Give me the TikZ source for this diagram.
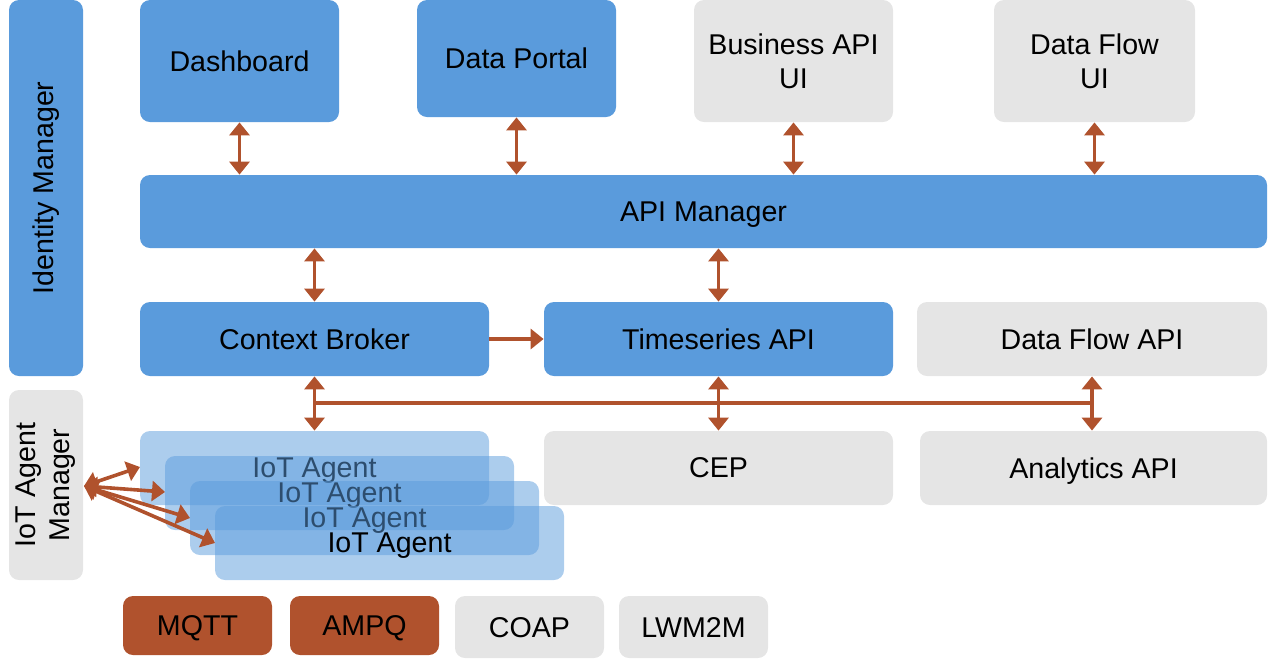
\documentclass[tikz,border=0pt]{standalone}
\usepackage{fontspec}
\setmainfont{Liberation Sans}
\usetikzlibrary{arrows.meta}
\definecolor{fblue}{HTML}{5A9BDC}
\definecolor{fgray}{HTML}{E5E5E5}
\definecolor{fbrown}{HTML}{B0522D}
\begin{document}
\begin{tikzpicture}[x=0.5pt,y=-0.5pt,
	box/.style={rectangle,rounded corners=5pt,inner sep=0pt,align=center,
		font=\fontsize{14.3}{17}\selectfont,minimum width=174.5pt,minimum height=37pt},
	onel/.style={text depth=0pt},
	bluebox/.style={box,fill=fblue},
	graybox/.style={box,fill=fgray},
	agentbox/.style={box,onel,fill=fblue,fill opacity=.5,text opacity=1},
	protobox/.style={box,onel,minimum width=74.5pt,minimum height=30pt},
	link/.style={draw=fbrown,line width=1.8pt},
	dlink/.style={link,{Triangle[length=6.5pt,width=10pt]}-{Triangle[length=6.5pt,width=10pt]}},
	slink/.style={link,-{Triangle[length=6.5pt,width=10pt]}}]
	\useasboundingbox (0,0) rectangle (1268,660);
	% side bars
	\node[bluebox,minimum width=37pt,minimum height=188pt] (idm) at (46,188) {};
	\node[rotate=90,font=\fontsize{14.3}{17}\selectfont] at (idm.center) {Identity Manager};
	\node[graybox,minimum width=37pt,minimum height=95pt] (iam) at (46,485) {};
	\node[rotate=90,align=center,font=\fontsize{14.3}{17}\selectfont] at (iam.center) {IoT Agent\\Manager};
	% top row
	\node[bluebox,onel,minimum width=99.5pt,minimum height=61pt] (dash) at (239.5,61) {Dashboard};
	\node[bluebox,onel,minimum width=99.5pt,minimum height=58.5pt] (dport) at (516.5,58.5) {Data Portal};
	\node[graybox,minimum width=99.5pt,minimum height=61pt] (bapi) at (793.5,61) {Business API\\UI};
	\node[graybox,minimum width=100.5pt,minimum height=61pt] (dfui) at (1094.5,61) {Data Flow\\UI};
	\node[bluebox,onel,minimum width=563.5pt,minimum height=36.5pt] (apim) at (703.5,211.5) {API Manager};
	% middle row
	\node[bluebox,onel] (cb) at (314.5,339) {Context Broker};
	\node[bluebox,onel] (ts) at (718.5,339) {Timeseries API};
	\node[graybox,onel,minimum width=175pt] (dfa) at (1092,339) {Data Flow API};
	% agents
	\foreach \i in {1,...,4}
	\node[agentbox] (ioa\i) at ({314.5+25*(\i-1)},{468+25*(\i-1)}) {IoT Agent};
	\node[graybox,onel] (cep) at (718.5,468) {CEP};
	\node[graybox,onel,minimum width=173.5pt] (ana) at (1093.5,468) {Analytics API};
	% protocols
	\node[protobox,fill=fbrown,minimum height=29.5pt] (mqtt) at (197.5,625.5) {MQTT};
	\node[protobox,fill=fbrown,minimum height=29.5pt] (ampq) at (364.5,625.5) {AMPQ};
	\node[protobox,fill=fgray,minimum height=31pt] (coap) at (529.5,627) {COAP};
	\node[protobox,fill=fgray,minimum height=31pt] (lwm) at (693.5,627) {LWM2M};
	% links
	\foreach \n in {dash,dport,bapi,dfui}
	\draw[dlink] (\n.south) -- (\n.south |- apim.north);
	\draw[dlink] (apim.south -| cb.north) -- (cb.north);
	\draw[dlink] (apim.south -| ts.north) -- (ts.north);
	\draw[slink] (cb.east) -- (ts.west);
	\draw[dlink] (cb.south) -- (ioa1.north);
	\draw[dlink] (ts.south) -- (cep.north);
	\draw[dlink] (dfa.south) -- (dfa.south |- ana.north);
	\coordinate (busl) at (cb.south |- 0,403);
	\coordinate (busr) at (dfa.south |- 0,403);
	\draw[link] (busl) -- (busr);
	\coordinate (am) at (84,486);
	\draw[dlink] (am) -- (140,467);
	\draw[dlink] (am) -- (165,492);
	\draw[dlink] (am) -- (190,518);
	\draw[dlink] (am) -- (215,543);
\end{tikzpicture}
\end{document}
